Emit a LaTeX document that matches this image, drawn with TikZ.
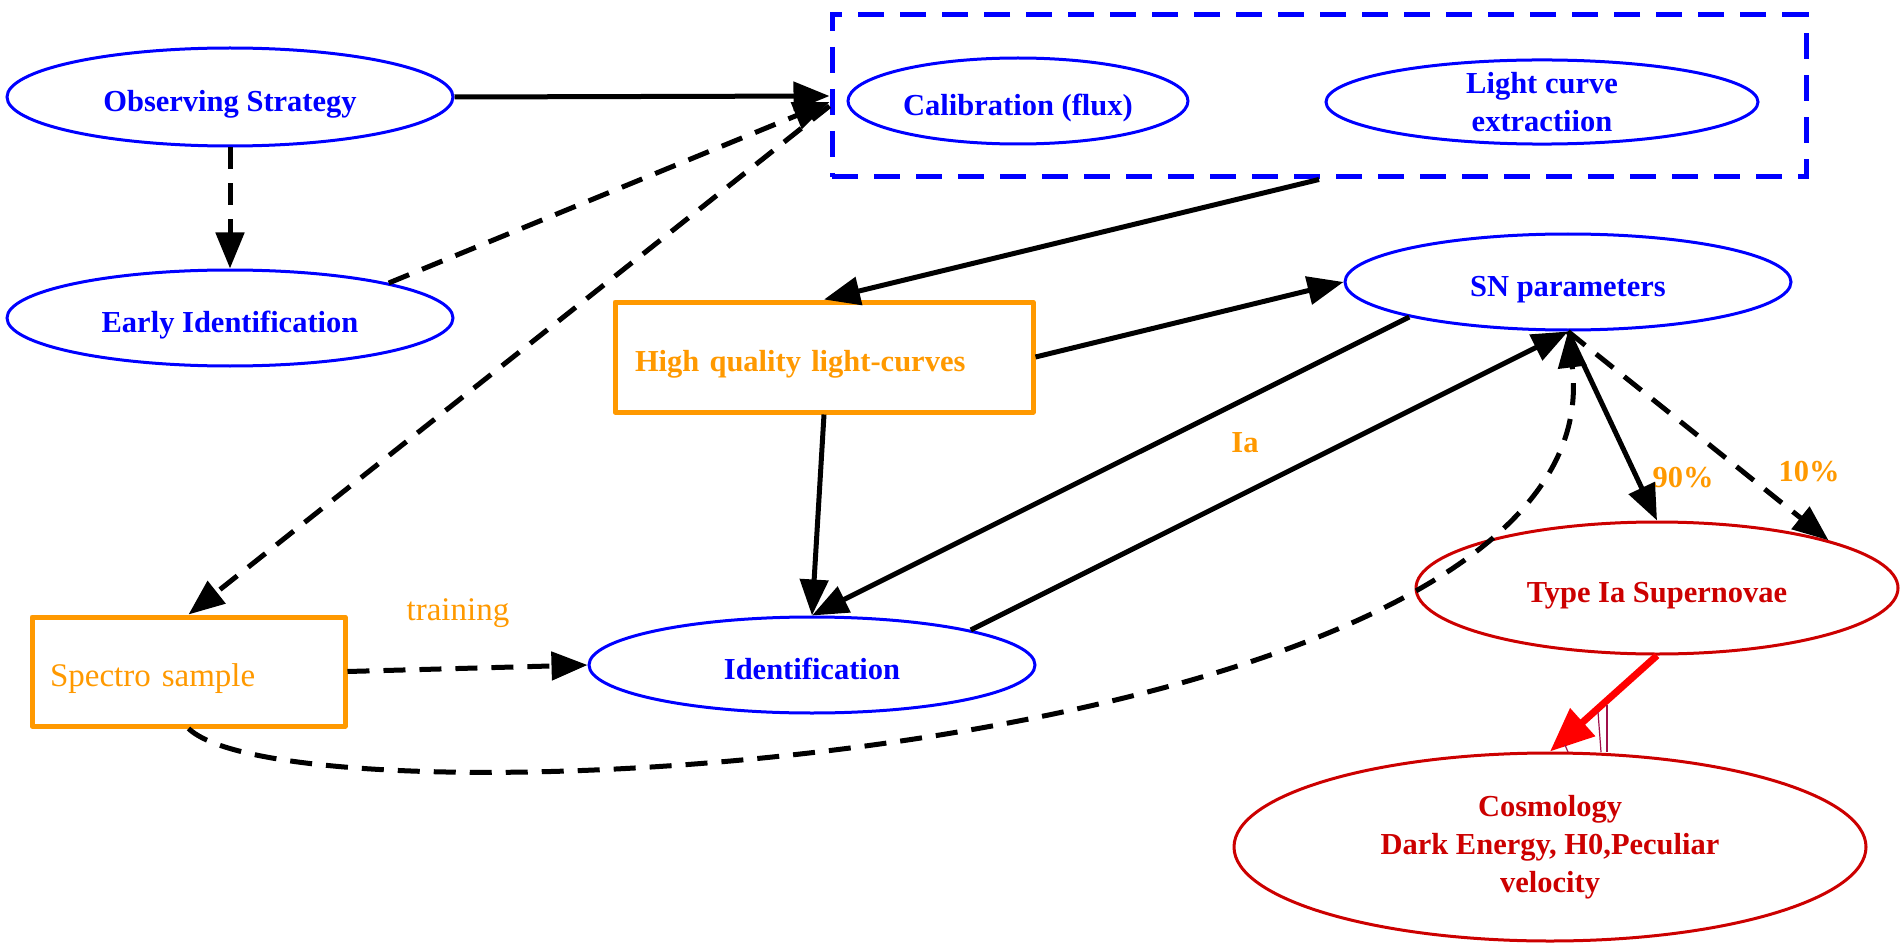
\documentclass[tikz,border=0pt]{standalone}
\usepackage{fontspec}
\setmainfont{Liberation Serif}
\usetikzlibrary{shapes.geometric,arrows.meta}
\definecolor{nblue}{HTML}{0000FF}
\definecolor{norange}{HTML}{FF9900}
\definecolor{nred}{HTML}{CC0000}
\definecolor{redarrow}{HTML}{FF0000}
\definecolor{purp}{HTML}{A0104A}
\begin{document}
\begin{tikzpicture}[x=1pt,y=-1pt,
  every node/.style={font=\fontsize{30.5}{38}\selectfont\bfseries},
  ell/.style={ellipse, draw, line width=3pt, inner sep=0pt, align=center},
  bnode/.style={ell, draw=nblue, text=nblue},
  rnode/.style={ell, draw=nred, text=nred},
  oneline/.style={text height=29pt, text depth=0pt},
  obox/.style={rectangle, draw=norange, line width=5pt, line join=round, text=norange, inner sep=0pt, align=left},
  arr/.style={draw=black, line width=5pt, -{Triangle[length=36pt,width=28pt]}},
  darr/.style={arr, dash pattern=on 22pt off 14pt},
  redarr/.style={draw=redarrow, line width=7pt, -{Triangle[length=44pt,width=36pt]}},
  lab/.style={text=norange},
  regfont/.style={font=\fontsize{33}{38}\selectfont}
]
\useasboundingbox (0,0) rectangle (1901,944);

% nodes
\node[bnode, oneline, minimum width=446pt, minimum height=98pt] (obs) at (230,97) {Observing Strategy};
\node[bnode, oneline, minimum width=446pt, minimum height=96pt] (early) at (230,318) {Early Identification};
\node[draw=nblue, line width=5pt, dash pattern=on 26pt off 16pt, minimum width=974pt, minimum height=162pt, inner sep=0pt] (box) at (1319,96) {};
\node[bnode, oneline, minimum width=340pt, minimum height=86pt] (calib) at (1018,101) {Calibration (flux)};
\node[bnode, minimum width=432pt, minimum height=82pt] (lc) at (1542,102) {Light curve\\extractiion};
\node[obox, oneline, minimum width=418pt, minimum height=110pt, text width=378pt] (hq) at (824,357) {High quality light-curves};
\node[bnode, oneline, minimum width=446pt, minimum height=96pt] (snp) at (1568,282) {SN parameters};
\node[obox, oneline, regfont, minimum width=313pt, minimum height=109pt, text width=277pt] (spectro) at (188.5,671.5) {Spectro sample};
\node[bnode, oneline, minimum width=446pt, minimum height=96pt] (ident) at (812,665) {Identification};
\node[rnode, oneline, minimum width=482pt, minimum height=132pt] (typeia) at (1657,588) {Type Ia Supernovae};
\node[rnode, minimum width=632pt, minimum height=188pt] (cosmo) at (1550,847) {Cosmology\\Dark Energy, H0,Peculiar\\velocity};

% labels
\node[lab] (lIa) at (1245,443) {Ia};
\node[lab] (l90) at (1683,478) {90\%};
\node[lab] (l10) at (1809,472) {10\%};
\node[lab, regfont] (ltr) at (458,613) {training};

% connectors
\draw[arr] (obs.east) -- (box.west);
\draw[darr] (obs.south) -- (early.north);
\draw[darr] (early.north east) -- ([yshift=-6pt]box.west);
\draw[darr] ([yshift=-10pt]box.west) -- (spectro.north);
\draw[arr] (box.south) -- (hq.north);
\draw[arr] (hq.east) -- (snp.west);
\draw[arr] (hq.south) -- (ident.north);
\draw[arr] (snp.south west) -- (ident.north);
\draw[arr] (ident.north east) -- (snp.south);
\draw[darr] (spectro.east) -- (ident.west);
\draw[darr] (spectro.south) .. controls (300,835) and (1620,760) .. (snp.south);
\draw[arr] (snp.south) -- (typeia.north);
\draw[darr] (snp.south) -- (typeia.north east);
\draw[redarr] (typeia.south) -- (cosmo.north);

% thin stray strokes
\draw[purp, line width=1.2pt] (1598,712) -- (1601,752);
\draw[purp, line width=1.2pt] (1607,705) -- (1607,752);
\draw[purp, line width=1.2pt] (1565,745) -- (1568,752);
\end{tikzpicture}
\end{document}
